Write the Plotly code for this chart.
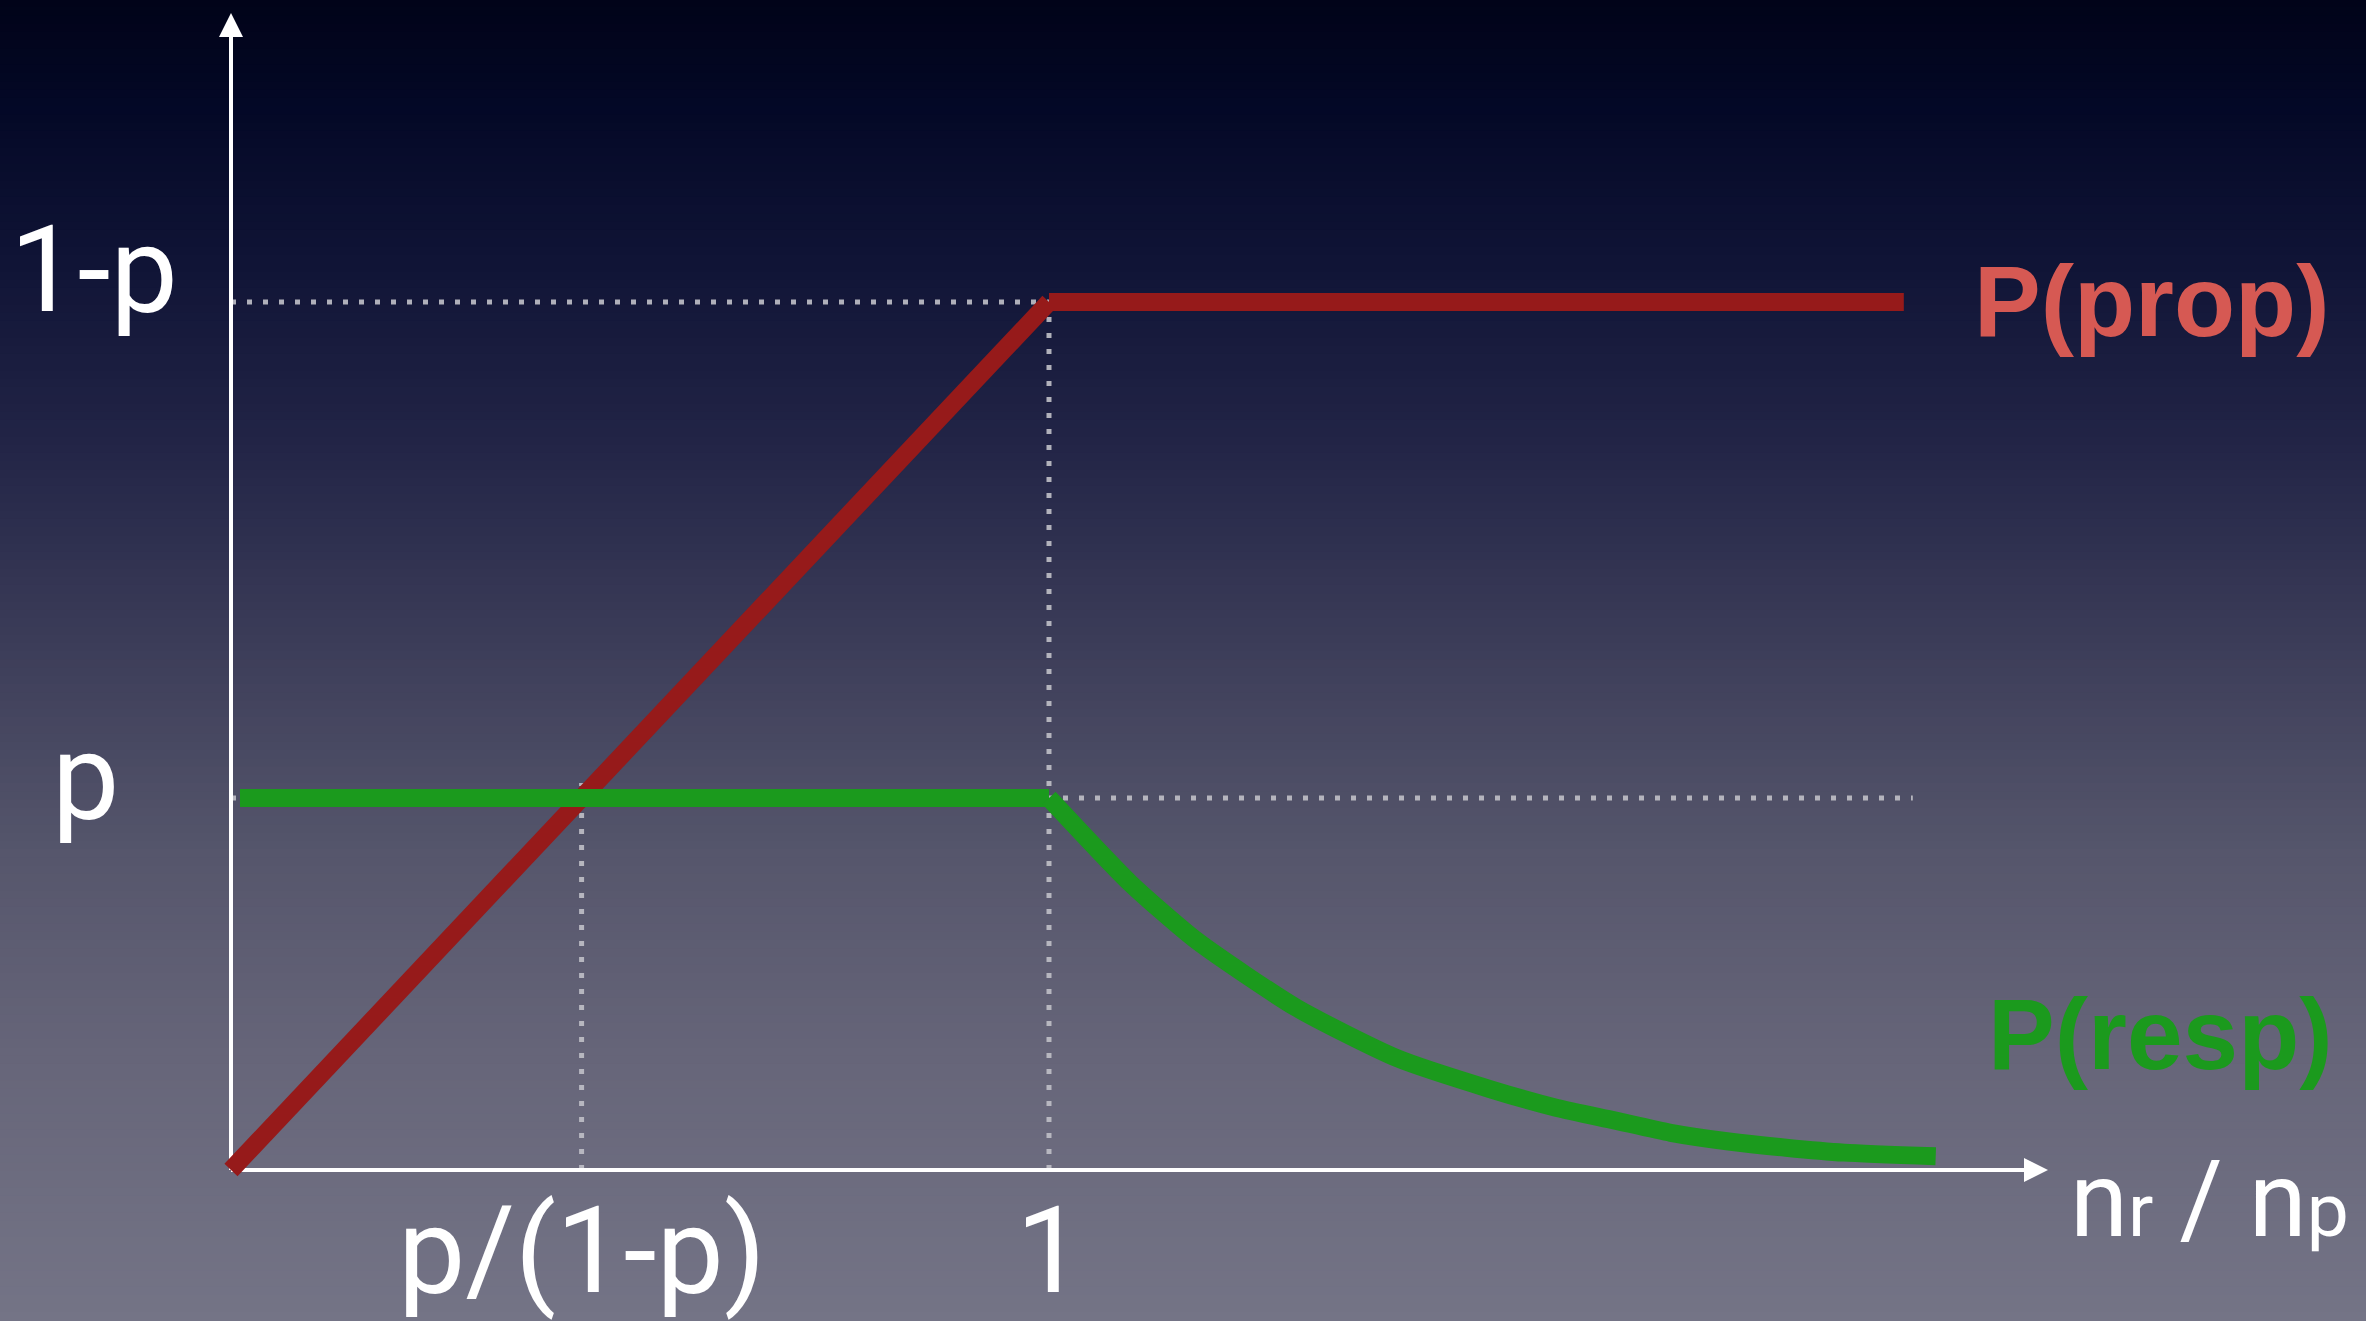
import numpy as np
import plotly.graph_objects as go

# ---------------- data ----------------
p = 0.3
prop_diag_x = [0.0, 1.0]
prop_diag_y = [0.0, 0.7]
prop_flat_x = [1.0, 2.045]
prop_flat_y = [0.7, 0.7]
resp_flat_x = [0.011, 1.0]
resp_flat_y = [0.3, 0.3]
resp_curve_x = [1.0, 1.099, 1.181, 1.303, 1.425, 1.539, 1.621, 1.691, 1.760,
                1.831, 1.901, 1.972, 2.084]
resp_curve_y = [0.300, 0.2315, 0.1847, 0.1306, 0.0903, 0.0653, 0.050, 0.040, 0.030,
                0.023, 0.018, 0.014, 0.011]
x_tick_vals = [0.4286, 1.0]
x_tick_text = ["p/(1-p)", "1"]
y_tick_vals = [0.7, 0.3]
y_tick_text = ["1-p", "p"]
series_names = ["P(prop)", "P(resp)"]
axis_title = "n<span style='font-size:75px'>r</span> / n<span style='font-size:75px'>p</span>"

# ---------------- geometry helpers ----------------
W, H = 2366, 1321
X0, XS = 231.0, 818.0     # pixel of x=0, pixels per x unit
Y0, YS = 1170.0, 1240.0   # pixel of y=0, pixels per y unit


def xd(px):
    return (px - X0) / XS


def yd(py):
    return (Y0 - py) / YS


RED = "#961a1a"
GREEN = "#1b9a1d"
RED_TXT = "#d65953"
GREEN_TXT = "#1b9a1d"
DOT = "rgba(190,190,198,0.92)"
LABEL_FAMILY = "Roboto, Lato, Open Sans, sans-serif"

fig = go.Figure()

# dotted guides
guides = [
    ([0.0, 1.0], [0.7, 0.7]),
    ([0.0, 2.056], [0.3, 0.3]),
    ([1.0, 1.0], [0.0, 0.7]),
    ([x_tick_vals[0], x_tick_vals[0]], [0.0, 0.312]),
]
for gx, gy in guides:
    fig.add_trace(go.Scatter(x=gx, y=gy, mode="lines", hoverinfo="skip",
                             line=dict(color=DOT, width=5, dash="5px,11px")))

# axes lines
fig.add_trace(go.Scatter(x=[0, 0], y=[0, yd(30)], mode="lines", hoverinfo="skip",
                         line=dict(color="white", width=4)))
fig.add_trace(go.Scatter(x=[0, xd(2030)], y=[0, 0], mode="lines", hoverinfo="skip",
                         line=dict(color="white", width=4)))

# series
fig.add_trace(go.Scatter(x=prop_diag_x, y=prop_diag_y, mode="lines", name=series_names[0],
                         line=dict(color=RED, width=18)))
fig.add_trace(go.Scatter(x=prop_flat_x, y=prop_flat_y, mode="lines", name=series_names[0],
                         line=dict(color=RED, width=18)))
fig.add_trace(go.Scatter(x=resp_flat_x, y=resp_flat_y, mode="lines", name=series_names[1],
                         line=dict(color=GREEN, width=18)))
fig.add_trace(go.Scatter(x=resp_curve_x, y=resp_curve_y, mode="lines", name=series_names[1],
                         line=dict(color=GREEN, width=18, shape="spline", smoothing=0.6)))

# arrow heads
fig.add_annotation(x=0, y=yd(13), xref="x", yref="y", ax=0, ay=30, text="",
                   showarrow=True, arrowhead=2, arrowsize=1.2, arrowwidth=4,
                   arrowcolor="white", standoff=0)
fig.add_annotation(x=xd(2048), y=0, xref="x", yref="y", ax=-30, ay=0, text="",
                   showarrow=True, arrowhead=2, arrowsize=1.2, arrowwidth=4,
                   arrowcolor="white", standoff=0)

label_font = dict(family=LABEL_FAMILY, size=120, color="white")

# y tick labels
fig.add_annotation(x=xd(94), y=yd(270), xref="x", yref="y", text=y_tick_text[0],
                   showarrow=False, xanchor="center", yanchor="middle", font=label_font)
fig.add_annotation(x=xd(85), y=yd(777), xref="x", yref="y", text=y_tick_text[1],
                   showarrow=False, xanchor="center", yanchor="middle", font=label_font)
# x tick labels
for v, t in zip(x_tick_vals, x_tick_text):
    fig.add_annotation(x=v, y=yd(1251), xref="x", yref="y", text=t,
                       showarrow=False, xanchor="center", yanchor="middle", font=label_font)
# axis title
fig.add_annotation(x=xd(2209), y=yd(1200), xref="x", yref="y", text=axis_title,
                   showarrow=False, xanchor="center", yanchor="middle",
                   font=dict(family=LABEL_FAMILY, size=105, color="white"))

# series labels
fig.add_annotation(x=xd(2151), y=yd(301), xref="x", yref="y", text=series_names[0],
                   showarrow=False, xanchor="center", yanchor="middle",
                   font=dict(family="Liberation Sans, Arial, sans-serif", size=100,
                             color=RED_TXT, weight=700))
fig.add_annotation(x=xd(2160), y=yd(1034), xref="x", yref="y", text=series_names[1],
                   showarrow=False, xanchor="center", yanchor="middle",
                   font=dict(family="Liberation Sans, Arial, sans-serif", size=100,
                             color=GREEN_TXT, weight=700))

# background gradient
stops = [
    (0.00, (1, 3, 24)),
    (0.08, (3, 8, 38)),
    (0.20, (16, 20, 54)),
    (0.35, (36, 38, 72)),
    (0.50, (62, 63, 90)),
    (0.65, (86, 86, 108)),
    (0.80, (102, 101, 121)),
    (1.00, (116, 116, 134)),
]
sf = np.array([s[0] for s in stops])
sc = np.array([s[1] for s in stops], dtype=float)
nb = 160
shapes = []
for i in range(nb):
    t0 = i / nb
    t1 = (i + 1) / nb
    tm = (t0 + t1) / 2
    c = [np.interp(tm, sf, sc[:, k]) for k in range(3)]
    shapes.append(dict(type="rect", xref="paper", yref="paper", x0=0, x1=1,
                       y0=1 - t1 - 0.001, y1=1 - t0 + 0.001, layer="below",
                       line=dict(width=0),
                       fillcolor="rgb(%d,%d,%d)" % tuple(int(round(v)) for v in c)))

fig.update_layout(
    width=W, height=H, autosize=False,
    margin=dict(l=0, r=0, t=0, b=0, pad=0),
    paper_bgcolor="rgb(116,116,134)",
    plot_bgcolor="rgba(0,0,0,0)",
    showlegend=False,
    shapes=shapes,
    xaxis=dict(range=[xd(0), xd(W)], visible=False, fixedrange=True),
    yaxis=dict(range=[yd(H), yd(0)], visible=False, fixedrange=True),
)

fig.write_html(
    "out.html",
    config={"displayModeBar": False},
    post_script="document.body.style.margin='0';document.body.style.overflow='hidden';"
                "document.body.style.background='rgb(116,116,134)';",
)
